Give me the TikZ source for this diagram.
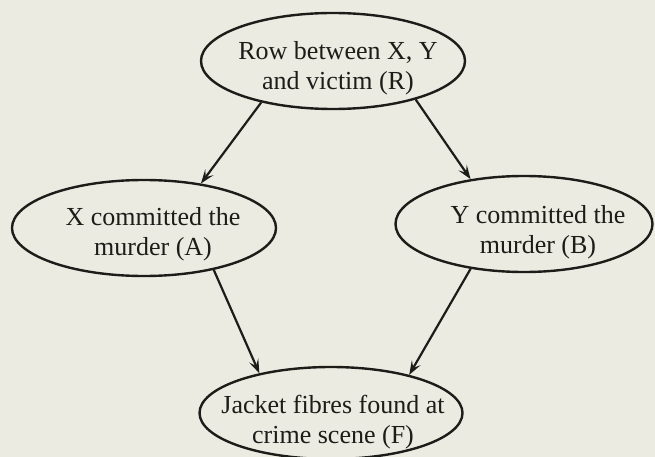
\documentclass[tikz,border=0pt]{standalone}
\usepackage{fontspec}
\setmainfont{Liberation Serif}
\usetikzlibrary{shapes.geometric,arrows.meta}
\definecolor{paper}{RGB}{236,235,225}
\definecolor{ink}{RGB}{28,28,25}
\tikzset{
  x=1pt, y=-1pt,
  ell/.style={ellipse, draw=ink, line width=2.4pt, inner sep=0pt},
  txt/.style={align=center, text=ink, inner sep=0pt,
              font=\fontsize{26}{30}\selectfont},
  arr/.style={draw=ink, line width=2.2pt,
              -{Stealth[length=14pt,width=10pt,inset=6pt]}}
}
\begin{document}
\begin{tikzpicture}
  \fill[paper] (0,0) rectangle (655,457);
  \useasboundingbox (0,0) rectangle (655,457);

  % the four events
  \node[ell, minimum width=264pt, minimum height=96pt,
        label={[txt, xshift=5pt, yshift=-7pt]center:{Row between X, Y\\and victim (R)}}]
        (R) at (333,61) {};
  \node[ell, minimum width=264pt, minimum height=96pt,
        label={[txt, xshift=9pt, yshift=-6pt]center:{X committed the\\murder (A)}}]
        (A) at (144,228) {};
  \node[ell, minimum width=257pt, minimum height=96pt,
        label={[txt, xshift=14pt, yshift=-8pt]center:{Y committed the\\murder (B)}}]
        (B) at (524,224) {};
  \node[ell, minimum width=263pt, minimum height=92pt,
        label={[txt, xshift=2pt, yshift=-9pt]center:{Jacket fibres found at\\crime scene (F)}}]
        (F) at (331,413) {};

  % causal links
  \draw[arr] (R.210) -- (A.38);
  \draw[arr] (R.335) -- (B.140);
  \draw[arr] (A.329) -- (F.151);
  \draw[arr] (B.220) -- (F.26);
\end{tikzpicture}
\end{document}
